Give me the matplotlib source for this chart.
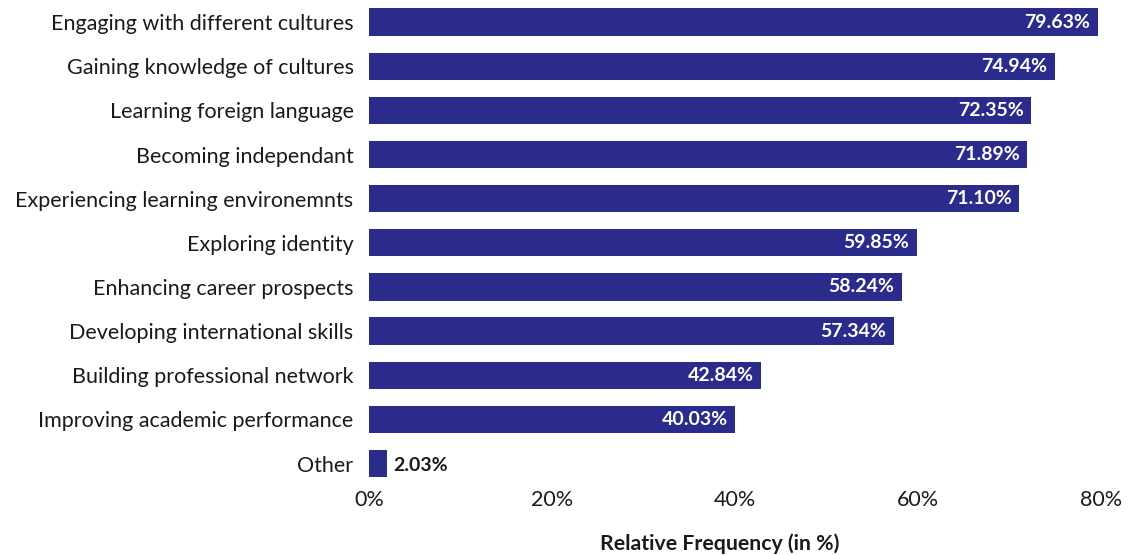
import matplotlib.pyplot as plt

plt.rcParams['font.family'] = ['Lato', 'DejaVu Sans']

categories = [
    "Engaging with different cultures",
    "Gaining knowledge of cultures",
    "Learning foreign language",
    "Becoming independant",
    "Experiencing learning environemnts",
    "Exploring identity",
    "Enhancing career prospects",
    "Developing international skills",
    "Building professional network",
    "Improving academic performance",
    "Other",
]
values = [79.63, 74.94, 72.35, 71.89, 71.10, 59.85, 58.24, 57.34, 42.84, 40.03, 2.03]
xticks = [0, 20, 40, 60, 80]

bar_color = "#2b2b8c"

fig = plt.figure(figsize=(11.28, 5.55), dpi=100)
ax = fig.add_axes([0.327, 0.125, 0.649, 0.875])

ypos = list(range(len(categories)))
ax.barh(ypos, values, height=0.62, color=bar_color)
ax.set_ylim(len(categories) - 0.5, -0.5)
ax.set_xlim(0, 80)

ax.set_yticks(ypos)
ax.set_yticklabels(categories, fontsize=15.5, color="#1a1a1a")
ax.set_xticks(xticks)
ax.set_xticklabels([f"{t}%" for t in xticks], fontsize=15.5, color="#1a1a1a")
ax.tick_params(length=0)
ax.tick_params(axis="y", pad=11)
ax.tick_params(axis="x", pad=3)
for s in ax.spines.values():
    s.set_visible(False)

# value labels: inside the bar in white, outside for short bars
for y, v in zip(ypos, values):
    if v > 10:
        ax.text(v - 0.8, y, f"{v:.2f}%", ha="right", va="center",
                color="white", fontsize=14, fontweight="bold")
    else:
        ax.text(v + 0.6, y + 0.05, f"{v:.2f}%", ha="left", va="center",
                color="#1a1a1a", fontsize=14, fontweight="bold")

ax.set_xlabel("Relative Frequency (in %)", fontsize=15.3, fontweight="bold",
              color="#1a1a1a")
ax.xaxis.set_label_coords(0.479, -0.12)
ax.xaxis.label.set_va("center")

fig.savefig("out.png", dpi=100)
